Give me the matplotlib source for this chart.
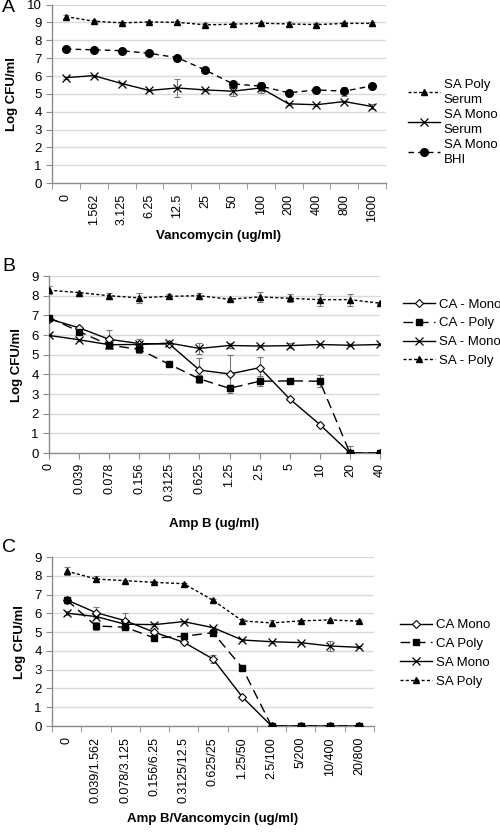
import numpy as np
import matplotlib
matplotlib.use("Agg")
import matplotlib.pyplot as plt

plt.rcParams["font.family"] = ["Liberation Sans", "DejaVu Sans"]

#------------------
# Data - panel A
#------------------
a_labels = ["0", "1.562", "3.125", "6.25", "12.5", "25", "50", "100", "200", "400", "800", "1600"]
a_sa_poly = [9.33, 9.07, 8.98, 9.03, 9.01, 8.87, 8.90, 8.96, 8.92, 8.88, 8.95, 8.95]
a_sa_poly_err = [0.08, 0.08, 0.06, 0.08, 0.08, 0.08, 0.08, 0.08, 0.1, 0.1, 0.06, 0.06]
a_sa_mono = [5.91, 6.02, 5.58, 5.19, 5.33, 5.22, 5.15, 5.33, 4.44, 4.39, 4.57, 4.29]
a_sa_mono_err = [0.05, 0.05, 0.05, 0.05, 0.5, 0.05, 0.25, 0.3, 0.05, 0.05, 0.05, 0.12]
a_sa_bhi = [7.51, 7.47, 7.42, 7.27, 7.03, 6.34, 5.56, 5.43, 5.06, 5.22, 5.15, 5.45]
a_sa_bhi_err = [0.05, 0.05, 0.05, 0.05, 0.05, 0.12, 0.05, 0.25, 0.05, 0.05, 0.25, 0.05]

#------------------
# Data - panel B
#------------------
b_labels = ["0", "0.039", "0.078", "0.156", "0.3125", "0.625", "1.25", "2.5", "5", "10", "20", "40"]
b_ca_mono = [6.82, 6.37, 5.78, 5.57, 5.54, 4.22, 4.02, 4.34, 2.75, 1.45, 0, 0]
b_ca_mono_err = [0.1, 0.05, 0.5, 0.25, 0.05, 0.6, 0.95, 0.55, 0.05, 0.05, 0.35, 0]
b_ca_poly = [6.89, 6.18, 5.49, 5.27, 4.51, 3.77, 3.29, 3.65, 3.67, 3.65, 0, 0]
b_ca_poly_err = [0.1, 0.05, 0.15, 0.2, 0.05, 0.2, 0.15, 0.25, 0.1, 0.3, 0, 0]
b_sa_mono = [5.98, 5.76, 5.51, 5.52, 5.59, 5.32, 5.47, 5.44, 5.46, 5.52, 5.48, 5.52]
b_sa_mono_err = [0.05, 0.05, 0.1, 0.1, 0.05, 0.3, 0.12, 0.05, 0.12, 0.05, 0.05, 0.05]
b_sa_poly = [8.28, 8.16, 8.00, 7.89, 7.97, 8.00, 7.82, 7.94, 7.87, 7.80, 7.80, 7.62]
b_sa_poly_err = [0.2, 0.05, 0.15, 0.25, 0.1, 0.15, 0.05, 0.25, 0.2, 0.3, 0.3, 0.05]

#------------------
# Data - panel C
#------------------
c_labels = ["0", "0.039/1.562", "0.078/3.125", "0.156/6.25", "0.3125/12.5", "0.625/25",
            "1.25/50", "2.5/100", "5/200", "10/400", "20/800"]
c_ca_mono = [6.72, 6.04, 5.61, 4.99, 4.46, 3.57, 1.55, 0, 0, 0, 0]
c_ca_mono_err = [0.1, 0.3, 0.4, 0.05, 0.05, 0.2, 0.05, 0, 0, 0, 0]
c_ca_poly = [6.72, 5.33, 5.26, 4.69, 4.78, 4.97, 3.10, 0, 0, 0, 0]
c_ca_poly_err = [0.15, 0.2, 0.05, 0.1, 0.05, 0.05, 0.05, 0, 0, 0, 0]
c_sa_mono = [6.01, 5.83, 5.42, 5.40, 5.56, 5.24, 4.58, 4.49, 4.44, 4.26, 4.19]
c_sa_mono_err = [0.1, 0.05, 0.05, 0.1, 0.05, 0.05, 0.05, 0.05, 0.05, 0.25, 0.05]
c_sa_poly = [8.25, 7.83, 7.74, 7.65, 7.58, 6.70, 5.60, 5.49, 5.60, 5.65, 5.58]
c_sa_poly_err = [0.2, 0.15, 0.05, 0.05, 0.05, 0.05, 0.1, 0.15, 0.05, 0.05, 0.05]

GRID = "#d9d9d9"
AXC = "#8c8c8c"
FS = 9

# line styles
S_TRI = dict(color="black", lw=1.0, dashes=(2.2, 1.6), marker="^", ms=5, mfc="black", mec="black")
S_X = dict(color="black", lw=1.0, ls="-", marker="x", ms=5.5, mew=0.9, mec="black")
S_BHI = dict(color="black", lw=1.0, dashes=(4, 3), marker="o", ms=5.5, mfc="black", mec="black")
S_DIA = dict(color="black", lw=1.0, ls="-", marker="D", ms=4, mfc="white", mec="black", mew=0.8)
S_SQ = dict(color="black", lw=1.0, dashes=(7, 4), marker="s", ms=5, mfc="black", mec="black")


def draw(ax, y, err, style, label):
    x = np.arange(len(y))
    ax.errorbar(x, y, yerr=err, fmt="none", ecolor="#777777", elinewidth=0.8,
                capsize=2.5, capthick=0.8, zorder=2)
    ax.plot(x, y, label=label, zorder=3, **style)


def setup(ax, labels, ymax, between, xlabel, pad):
    n = len(labels)
    ax.set_ylim(0, ymax)
    ax.set_yticks(range(0, ymax + 1))
    ax.yaxis.grid(True, color=GRID, lw=1.0)
    ax.set_axisbelow(True)
    for s in ["top", "right"]:
        ax.spines[s].set_visible(False)
    for s in ["left", "bottom"]:
        ax.spines[s].set_color(AXC)
        ax.spines[s].set_linewidth(1.0)
    ax.tick_params(axis="y", colors=AXC, labelcolor="black", labelsize=FS + 0.5, length=4)
    if between:
        ax.set_xlim(-0.5, n - 0.5)
        ax.set_xticks(range(n))
        ax.set_xticklabels(labels, rotation=90, fontsize=FS)
        ax.set_xticks(np.arange(-0.5, n, 1.0), minor=True)
        ax.tick_params(axis="x", which="major", length=0, pad=8)
        ax.tick_params(axis="x", which="minor", length=4, color=AXC)
    else:
        ax.set_xlim(0, n - 1)
        ax.set_xticks(range(n))
        ax.set_xticklabels(labels, rotation=90, fontsize=FS)
        ax.tick_params(axis="x", length=4, color=AXC, pad=3)
    ax.set_ylabel("Log CFU/ml", fontsize=9.5, fontweight="bold", labelpad=6)
    ax.set_xlabel(xlabel, fontsize=9.5, fontweight="bold", labelpad=pad)


fig = plt.figure(figsize=(5.0, 8.32), dpi=100)

leg_kw = dict(loc="center left", frameon=False, fontsize=9.5, handlelength=2.4,
              handletextpad=0.3, borderaxespad=0)

# Panel A
axA = fig.add_axes([0.104, 0.780, 0.668, 0.2144])
draw(axA, a_sa_poly, a_sa_poly_err, S_TRI, "SA Poly\nSerum")
draw(axA, a_sa_mono, a_sa_mono_err, S_X, "SA Mono\nSerum")
draw(axA, a_sa_bhi, a_sa_bhi_err, S_BHI, "SA Mono\nBHI")
setup(axA, a_labels, 10, True, "Vancomycin (ug/ml)", 3)
legA = axA.legend(bbox_to_anchor=(1.05, 0.34), labelspacing=0.25, **leg_kw)
for t in legA.get_texts():
    t.set_linespacing(1.3)

# Panel B
axB = fig.add_axes([0.098, 0.4555, 0.662, 0.2127])
draw(axB, b_ca_mono, b_ca_mono_err, S_DIA, "CA - Mono")
draw(axB, b_ca_poly, b_ca_poly_err, S_SQ, "CA - Poly")
draw(axB, b_sa_mono, b_sa_mono_err, S_X, "SA - Mono")
draw(axB, b_sa_poly, b_sa_poly_err, S_TRI, "SA - Poly")
setup(axB, b_labels, 9, False, "Amp B (ug/ml)", 12)
axB.legend(bbox_to_anchor=(1.055, 0.68), labelspacing=0.5, **leg_kw)

# Panel C
axC = fig.add_axes([0.104, 0.1274, 0.644, 0.2031])
draw(axC, c_ca_mono, c_ca_mono_err, S_DIA, "CA Mono")
draw(axC, c_ca_poly, c_ca_poly_err, S_SQ, "CA Poly")
draw(axC, c_sa_mono, c_sa_mono_err, S_X, "SA Mono")
draw(axC, c_sa_poly, c_sa_poly_err, S_TRI, "SA Poly")
setup(axC, c_labels, 9, True, "Amp B/Vancomycin (ug/ml)", 7)
axC.legend(bbox_to_anchor=(1.065, 0.43), labelspacing=0.5, **leg_kw)

fig.text(0.004, 0.9856, "A", fontsize=14, va="baseline", ha="left")
fig.text(0.004, 0.674, "B", fontsize=14, va="baseline", ha="left")
fig.text(0.004, 0.3365, "C", fontsize=14, va="baseline", ha="left")

fig.savefig("out.png", dpi=100)
